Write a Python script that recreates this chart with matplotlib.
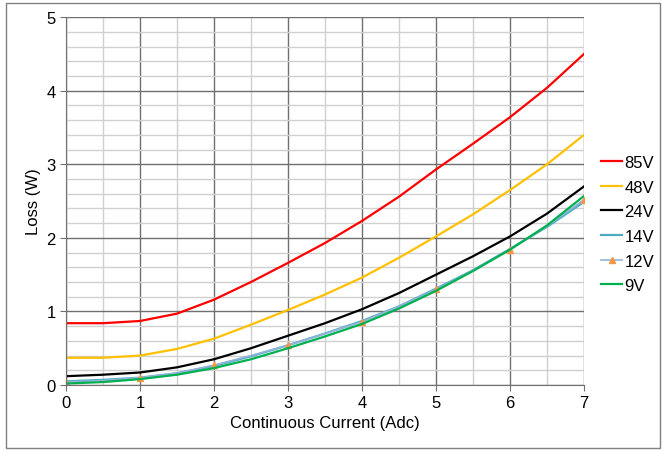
import numpy as np
import matplotlib.pyplot as plt
from matplotlib.patches import Rectangle

plt.rcParams['font.family'] = ['Liberation Sans', 'DejaVu Sans']

# current (Adc) and loss (W)
current = [0, 0.5, 1, 1.5, 2, 2.5, 3, 3.5, 4, 4.5, 5, 5.5, 6, 6.5, 7]
loss_85v = [0.84, 0.84, 0.87, 0.97, 1.16, 1.40, 1.66, 1.93, 2.23, 2.56, 2.93, 3.28, 3.64, 4.04, 4.50]
loss_48v = [0.37, 0.37, 0.40, 0.49, 0.63, 0.82, 1.02, 1.23, 1.46, 1.73, 2.02, 2.32, 2.65, 3.00, 3.40]
loss_24v = [0.12, 0.14, 0.17, 0.24, 0.35, 0.50, 0.67, 0.84, 1.03, 1.25, 1.50, 1.75, 2.02, 2.33, 2.70]
loss_14v = [0.05, 0.07, 0.10, 0.16, 0.26, 0.39, 0.54, 0.70, 0.87, 1.07, 1.31, 1.56, 1.85, 2.15, 2.49]
loss_12v = [0.04, 0.06, 0.10, 0.16, 0.27, 0.40, 0.54, 0.70, 0.86, 1.07, 1.30, 1.56, 1.84, 2.16, 2.52]
loss_9v = [0.02, 0.04, 0.08, 0.14, 0.23, 0.35, 0.50, 0.66, 0.83, 1.04, 1.28, 1.55, 1.84, 2.17, 2.57]

fig = plt.figure(figsize=(6.63, 4.52), dpi=100)
ax = fig.add_axes([0.0995, 0.146, 0.7815, 0.814])

# outer frame round the whole chart
fig.patches.append(Rectangle((0.009, 0.006), 0.986, 0.985, transform=fig.transFigure,
                             fill=False, edgecolor='#808080', linewidth=1))

ax.plot(current, loss_85v, color='#FF0000', lw=1.6, label='85V')
ax.plot(current, loss_48v, color='#FFC000', lw=1.6, label='48V')
ax.plot(current, loss_24v, color='black', lw=1.6, label='24V')
ax.plot(current, loss_14v, color='#4BACC6', lw=1.6, label='14V')
ax.plot(current, loss_12v, color='#95B3D7', lw=1.2, marker='^', markersize=4,
        markerfacecolor='#F79646', markeredgecolor='#F79646', markevery=2, label='12V')
ax.plot(current, loss_9v, color='#00B050', lw=1.6, label='9V')

ax.set_xlim(0, 7)
ax.set_ylim(0, 5)
ax.set_xticks(range(8))
ax.set_yticks(range(6))
ax.set_xticks(np.arange(0, 7.01, 0.5), minor=True)
ax.set_yticks(np.arange(0, 5.01, 0.2), minor=True)
ax.grid(which='major', color='#707070', lw=1)
ax.grid(which='minor', color='#D0D0D0', lw=1)
ax.set_axisbelow(True)
ax.tick_params(which='minor', length=0)
ax.tick_params(which='major', labelsize=12, length=4, color='#707070')
for s in ['top', 'right']:
    ax.spines[s].set_visible(False)
ax.spines['left'].set_color('#707070')
ax.spines['bottom'].set_color('#707070')

ax.set_xlabel('Continuous Current (Adc)', fontsize=12, labelpad=3)
ax.set_ylabel('Loss (W)', fontsize=12)

ax.legend(loc='center left', bbox_to_anchor=(1.033, 0.4375), frameon=False, fontsize=12,
          handlelength=1.25, handletextpad=0.15, labelspacing=0.58, borderaxespad=0,
          borderpad=0)

fig.savefig('out.png', dpi=100)
